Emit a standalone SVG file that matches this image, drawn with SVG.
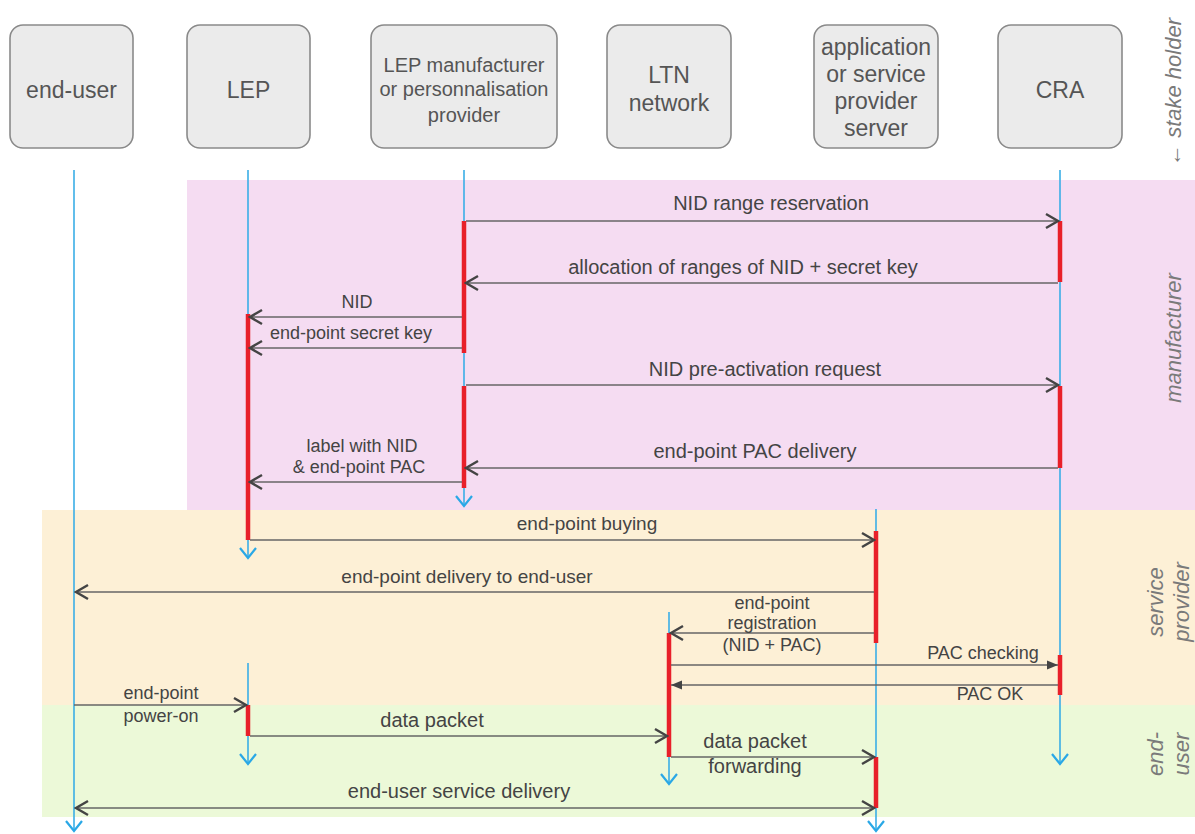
<svg xmlns="http://www.w3.org/2000/svg" width="1195" height="834" viewBox="0 0 1195 834">
<defs>
<style>
.box{fill:#ebebeb;stroke:#8a8a8a;stroke-width:1.6}
.bt{font-family:"Liberation Sans",Arial,sans-serif;font-size:23px;fill:#555;text-anchor:middle}
.bt2{font-family:"Liberation Sans",Arial,sans-serif;font-size:20px;fill:#555;text-anchor:middle}
.life{stroke:#3aaee6;stroke-width:1.6;fill:none}
.act{stroke:#e8202a;stroke-width:4.5;fill:none}
.msg{stroke:#666;stroke-width:1.6;fill:none}
.ml{font-family:"Liberation Sans",Arial,sans-serif;font-size:20px;fill:#444;text-anchor:middle}
.ms{font-family:"Liberation Sans",Arial,sans-serif;font-size:18px;fill:#444;text-anchor:middle}
.side{font-family:"Liberation Sans",Arial,sans-serif;font-size:22px;font-style:italic;fill:#7a7a7a;text-anchor:middle}
</style>
<marker id="open" markerUnits="userSpaceOnUse" markerWidth="16" markerHeight="18" refX="14" refY="9" orient="auto-start-reverse">
<path d="M2,2 L14,9 L2,16" fill="none" stroke="#444" stroke-width="2.4"/>
</marker>
<marker id="tri" markerUnits="userSpaceOnUse" markerWidth="12" markerHeight="12" refX="11" refY="6" orient="auto">
<path d="M0,1.5 L11,6 L0,10.5 Z" fill="#444"/>
</marker>
<marker id="blue" markerUnits="userSpaceOnUse" markerWidth="20" markerHeight="14" refX="10" refY="12" orient="0">
<path d="M2,2 L10,12 L18,2" fill="none" stroke="#2aa8e6" stroke-width="2.2"/>
</marker>
</defs>

<g id="bands">
<rect x="187" y="180" width="1008" height="330" fill="#f5dcf2"/>
<rect x="42" y="510" width="1153" height="195" fill="#fdf0d6"/>
<rect x="42" y="705" width="1153" height="112" fill="#ecf9d8"/>
</g>

<g id="node-end-user"><rect class="box" x="10" y="25" width="123" height="123" rx="13"/><text class="bt" x="71.5" y="98">end-user</text></g>
<g id="node-lep"><rect class="box" x="187" y="25" width="123" height="123" rx="13"/><text class="bt" x="248.5" y="98">LEP</text></g>
<g id="node-manufacturer"><rect class="box" x="371" y="25" width="186" height="123" rx="13"/>
<text class="bt2" x="464" y="72">LEP manufacturer</text><text class="bt2" x="464" y="96">or personnalisation</text><text class="bt2" x="464" y="122">provider</text></g>
<g id="node-ltn"><rect class="box" x="607" y="25" width="124" height="123" rx="13"/>
<text class="bt" x="669" y="83">LTN</text><text class="bt" x="669" y="111">network</text></g>
<g id="node-app"><rect class="box" x="814" y="25" width="124" height="123" rx="13"/>
<text class="bt" x="876" y="55">application</text><text class="bt" x="876" y="82">or service</text><text class="bt" x="876" y="109">provider</text><text class="bt" x="876" y="136">server</text></g>
<g id="node-cra"><rect class="box" x="998" y="25" width="124" height="123" rx="13"/><text class="bt" x="1060" y="98">CRA</text></g>

<g id="side-labels">
<text class="side" transform="translate(1181,92) rotate(-90)">← stake holder</text>
<text class="side" transform="translate(1181,338) rotate(-90)">manufacturer</text>
<text class="side" transform="translate(1163,602) rotate(-90)">service</text>
<text class="side" transform="translate(1189,602) rotate(-90)">provider</text>
<text class="side" transform="translate(1163,754) rotate(-90)">end-</text>
<text class="side" transform="translate(1189,754) rotate(-90)">user</text>
</g>

<g id="lifelines">
<line class="life" x1="74" y1="170" x2="74" y2="831" marker-end="url(#blue)"/>
<line class="life" x1="248" y1="170" x2="248" y2="558" marker-end="url(#blue)"/>
<line class="life" x1="248" y1="663" x2="248" y2="764" marker-end="url(#blue)"/>
<line class="life" x1="464" y1="170" x2="464" y2="506" marker-end="url(#blue)"/>
<line class="life" x1="669" y1="612" x2="669" y2="784" marker-end="url(#blue)"/>
<line class="life" x1="876" y1="509" x2="876" y2="831" marker-end="url(#blue)"/>
<line class="life" x1="1060" y1="170" x2="1060" y2="764" marker-end="url(#blue)"/>
</g>

<g id="activations">
<line class="act" x1="464" y1="221" x2="464" y2="353"/>
<line class="act" x1="464" y1="386" x2="464" y2="488"/>
<line class="act" x1="1060" y1="221" x2="1060" y2="282"/>
<line class="act" x1="1060" y1="386" x2="1060" y2="468"/>
<line class="act" x1="1060" y1="655" x2="1060" y2="695"/>
<line class="act" x1="248" y1="314" x2="248" y2="540"/>
<line class="act" x1="248" y1="705" x2="248" y2="736"/>
<line class="act" x1="876" y1="531" x2="876" y2="643"/>
<line class="act" x1="876" y1="757" x2="876" y2="808"/>
<line class="act" x1="669" y1="633" x2="669" y2="757"/>
</g>

<g id="connectors">
<line class="msg" x1="466" y1="221" x2="1058" y2="221" marker-end="url(#open)"/>
<line class="msg" x1="1058" y1="283" x2="466" y2="283" marker-end="url(#open)"/>
<line class="msg" x1="462" y1="317" x2="250" y2="317" marker-end="url(#open)"/>
<line class="msg" x1="462" y1="348" x2="250" y2="348" marker-end="url(#open)"/>
<line class="msg" x1="466" y1="385" x2="1058" y2="385" marker-end="url(#open)"/>
<line class="msg" x1="1058" y1="468" x2="466" y2="468" marker-end="url(#open)"/>
<line class="msg" x1="462" y1="482" x2="250" y2="482" marker-end="url(#open)"/>
<line class="msg" x1="250" y1="540" x2="874" y2="540" marker-end="url(#open)"/>
<line class="msg" x1="874" y1="592" x2="76" y2="592" marker-end="url(#open)"/>
<line class="msg" x1="874" y1="633" x2="671" y2="633" marker-end="url(#open)"/>
<line class="msg" x1="671" y1="665" x2="1058" y2="665" marker-end="url(#tri)"/>
<line class="msg" x1="1058" y1="685" x2="671" y2="685" marker-end="url(#tri)"/>
<line class="msg" x1="74" y1="705" x2="246" y2="705" marker-end="url(#open)"/>
<line class="msg" x1="250" y1="736" x2="667" y2="736" marker-end="url(#open)"/>
<line class="msg" x1="671" y1="757" x2="874" y2="757" marker-end="url(#open)"/>
<line class="msg" x1="76" y1="808" x2="874" y2="808" marker-start="url(#open)" marker-end="url(#open)"/>
</g>

<g id="labels">
<text class="ml" x="771" y="210">NID range reservation</text>
<text class="ml" x="743" y="274">allocation of ranges of NID + secret key</text>
<text class="ms" x="357" y="308">NID</text>
<text class="ms" x="351" y="339">end-point secret key</text>
<text class="ml" x="765" y="376">NID pre-activation request</text>
<text class="ml" x="755" y="458">end-point PAC delivery</text>
<text class="ms" x="362" y="452">label with NID</text>
<text class="ms" x="359" y="473">&amp; end-point PAC</text>
<text class="ms" x="587" y="530" style="font-size:19px">end-point buying</text>
<text class="ms" x="467" y="583" style="font-size:19px">end-point delivery to end-user</text>
<text class="ms" x="772" y="609">end-point</text>
<text class="ms" x="772" y="629">registration</text>
<text class="ms" x="772" y="651">(NID + PAC)</text>
<text class="ms" x="983" y="659">PAC checking</text>
<text class="ms" x="990" y="700">PAC OK</text>
<text class="ms" x="161" y="699">end-point</text>
<text class="ms" x="161" y="722">power-on</text>
<text class="ml" x="432" y="727">data packet</text>
<text class="ml" x="755" y="748">data packet</text>
<text class="ml" x="755" y="773">forwarding</text>
<text class="ml" x="459" y="798">end-user service delivery</text>
</g>
</svg>
